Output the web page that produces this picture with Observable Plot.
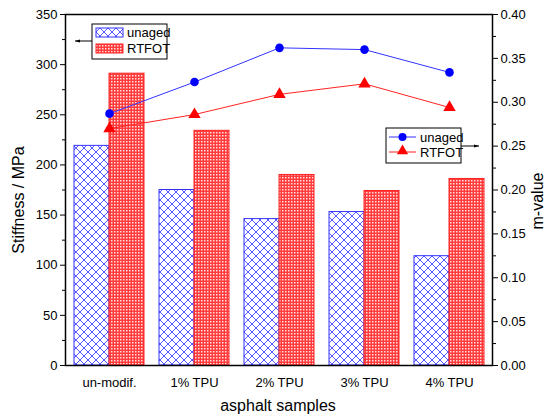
<!DOCTYPE html>
<html>
<head>
<meta charset="utf-8">
<script src="https://cdn.jsdelivr.net/npm/d3@7"></script>
<script src="https://cdn.jsdelivr.net/npm/@observablehq/plot@0.6"></script>
<style>
  html, body { margin: 0; padding: 0; background: #fff; }
  #chart svg { font-family: "Liberation Sans", Arial, sans-serif; }
</style>
</head>
<body>
<div id="chart"></div>
<script>
const samples = ["un-modif.", "1% TPU", "2% TPU", "3% TPU", "4% TPU"];
const stiffnessUnaged = [219, 175, 146, 153, 109];
const stiffnessRTFOT = [291, 234, 190, 174, 186];
const mUnaged = [0.287, 0.323, 0.362, 0.360, 0.334];
const mRTFOT = [0.270, 0.286, 0.309, 0.321, 0.294];
const leftTicks = [0, 50, 100, 150, 200, 250, 300, 350];
const rightTicks = [0, 0.05, 0.10, 0.15, 0.20, 0.25, 0.30, 0.35, 0.40];
const seriesNames = ["unaged", "RTFOT"];
const axisTitles = {x: "asphalt samples", yLeft: "Stiffness / MPa", yRight: "m-value"};

const yMax = 350, mMax = 0.40, k = yMax / mMax;

const barsU = samples.map((s, i) => ({sample: s, v: stiffnessUnaged[i]}));
const barsR = samples.map((s, i) => ({sample: s, v: stiffnessRTFOT[i]}));
const lineU = samples.map((s, i) => ({sample: s, m: mUnaged[i]}));
const lineR = samples.map((s, i) => ({sample: s, m: mRTFOT[i]}));

const minorLeft = d3.range(25, 350, 50);
const minorRight = d3.range(0.025, 0.4, 0.05);

const W = 550, H = 418;
const mL = 65, mR = 58, mT = 14, mB = 53;
const bw = (W - mL - mR) / samples.length * 0.82;

const plot = Plot.plot({
  width: W, height: H,
  marginLeft: mL, marginRight: mR, marginTop: mT, marginBottom: mB,
  style: {fontFamily: "Liberation Sans, Arial, sans-serif", fontSize: "13px", color: "#000", background: "#fff"},
  x: {domain: samples, paddingInner: 0.18, paddingOuter: 0.09, label: null},
  y: {domain: [0, yMax], label: null},
  marks: [
    Plot.barY(barsU, {x: "sample", y: "v", fill: "url(#hatchBlue)", stroke: "#3333ff", strokeWidth: 1, insetLeft: 0, insetRight: bw / 2}),
    Plot.barY(barsR, {x: "sample", y: "v", fill: "url(#checkRed)", stroke: "#ff2222", strokeWidth: 1, insetLeft: bw / 2, insetRight: 0}),
    Plot.line(lineU, {x: "sample", y: d => d.m * k, stroke: "#3333ff", strokeWidth: 1}),
    Plot.line(lineR, {x: "sample", y: d => d.m * k, stroke: "#ff2222", strokeWidth: 1}),
    Plot.dot(lineU, {x: "sample", y: d => d.m * k, fill: "#0000ff", r: 4.3, symbol: "circle"}),
    Plot.dot(lineR, {x: "sample", y: d => d.m * k, fill: "#ff0000", r: 4.6, symbol: "triangle"}),
    Plot.axisY({anchor: "left", ticks: leftTicks, tickSize: 5, tickPadding: 3, fontSize: 13, label: null}),
    Plot.axisY({anchor: "left", ticks: minorLeft, tickSize: 3, tickFormat: () => "", label: null}),
    Plot.axisY({anchor: "right", ticks: rightTicks.map(t => t * k), tickSize: 5, tickPadding: 3, fontSize: 13, tickFormat: d => (d / k).toFixed(2), label: null}),
    Plot.axisY({anchor: "right", ticks: minorRight.map(t => t * k), tickSize: 3, tickFormat: () => "", label: null}),
    Plot.axisX({tickSize: 0, tickPadding: 12, fontSize: 13, label: null}),
    Plot.frame({stroke: "#000", strokeWidth: 1.5})
  ]
});

const svg = d3.select(plot);
const defs = svg.insert("defs", ":first-child");
const pb = defs.append("pattern").attr("id", "hatchBlue").attr("patternUnits", "userSpaceOnUse")
  .attr("width", 8).attr("height", 8);
pb.append("rect").attr("width", 8).attr("height", 8).attr("fill", "#fff");
pb.append("path").attr("d", "M0,0L8,8M8,0L0,8M-1,7L1,9M7,-1L9,1").attr("stroke", "#4444ff").attr("stroke-width", 0.9).attr("fill", "none");
const pr = defs.append("pattern").attr("id", "checkRed").attr("patternUnits", "userSpaceOnUse")
  .attr("width", 3).attr("height", 3);
pr.append("rect").attr("width", 3).attr("height", 3).attr("fill", "#ff3b3b");
pr.append("rect").attr("width", 1.5).attr("height", 1.5).attr("fill", "#ffe0e0");
const arrowDef = defs.append("marker").attr("id", "arrowHead").attr("viewBox", "0 0 10 10")
  .attr("refX", 10).attr("refY", 5).attr("markerWidth", 5).attr("markerHeight", 5).attr("orient", "auto");
arrowDef.append("path").attr("d", "M0,2L10,5L0,8Z").attr("fill", "#000");

// Axis titles
const titles = svg.append("g").attr("font-size", 16).attr("fill", "#000").attr("text-anchor", "middle");
titles.append("text").attr("x", 278).attr("y", 411).text(axisTitles.x);
titles.append("text").attr("transform", "translate(24,200) rotate(-90)").text(axisTitles.yLeft);
titles.append("text").attr("transform", "translate(543,201) rotate(-90)").text(axisTitles.yRight);

// Legend for bars (top-left)
const lg1 = svg.append("g").attr("font-size", 13).attr("text-anchor", "start");
lg1.append("rect").attr("x", 92).attr("y", 24).attr("width", 75).attr("height", 35).attr("fill", "#fff").attr("stroke", "#000").attr("stroke-width", 1);
lg1.append("rect").attr("x", 96).attr("y", 28).attr("width", 27).attr("height", 9).attr("fill", "url(#hatchBlue)").attr("stroke", "#3333ff");
lg1.append("rect").attr("x", 96).attr("y", 44).attr("width", 27).attr("height", 9).attr("fill", "url(#checkRed)").attr("stroke", "#ff2222");
lg1.append("text").attr("x", 127).attr("y", 37).text(seriesNames[0]);
lg1.append("text").attr("x", 127).attr("y", 53).text(seriesNames[1]);
lg1.append("line").attr("x1", 92).attr("y1", 41).attr("x2", 75).attr("y2", 41).attr("stroke", "#000").attr("marker-end", "url(#arrowHead)");

// Legend for lines (right)
const lg2 = svg.append("g").attr("font-size", 13).attr("text-anchor", "start");
lg2.append("rect").attr("x", 386).attr("y", 128).attr("width", 75).attr("height", 35).attr("fill", "#fff").attr("stroke", "#000").attr("stroke-width", 1);
lg2.append("line").attr("x1", 389).attr("y1", 137).attr("x2", 416).attr("y2", 137).attr("stroke", "#3333ff");
lg2.append("circle").attr("cx", 402.5).attr("cy", 137).attr("r", 4).attr("fill", "#0000ff");
lg2.append("line").attr("x1", 389).attr("y1", 152).attr("x2", 416).attr("y2", 152).attr("stroke", "#ff2222");
lg2.append("path").attr("d", d3.symbol(d3.symbolTriangle, 55)()).attr("transform", "translate(402.5,151)").attr("fill", "#ff0000");
lg2.append("text").attr("x", 420).attr("y", 142).text(seriesNames[0]);
lg2.append("text").attr("x", 420).attr("y", 157).text(seriesNames[1]);
lg2.append("line").attr("x1", 461).attr("y1", 146).attr("x2", 479).attr("y2", 146).attr("stroke", "#000").attr("marker-end", "url(#arrowHead)");

document.getElementById("chart").appendChild(plot);
</script>
</body>
</html>
